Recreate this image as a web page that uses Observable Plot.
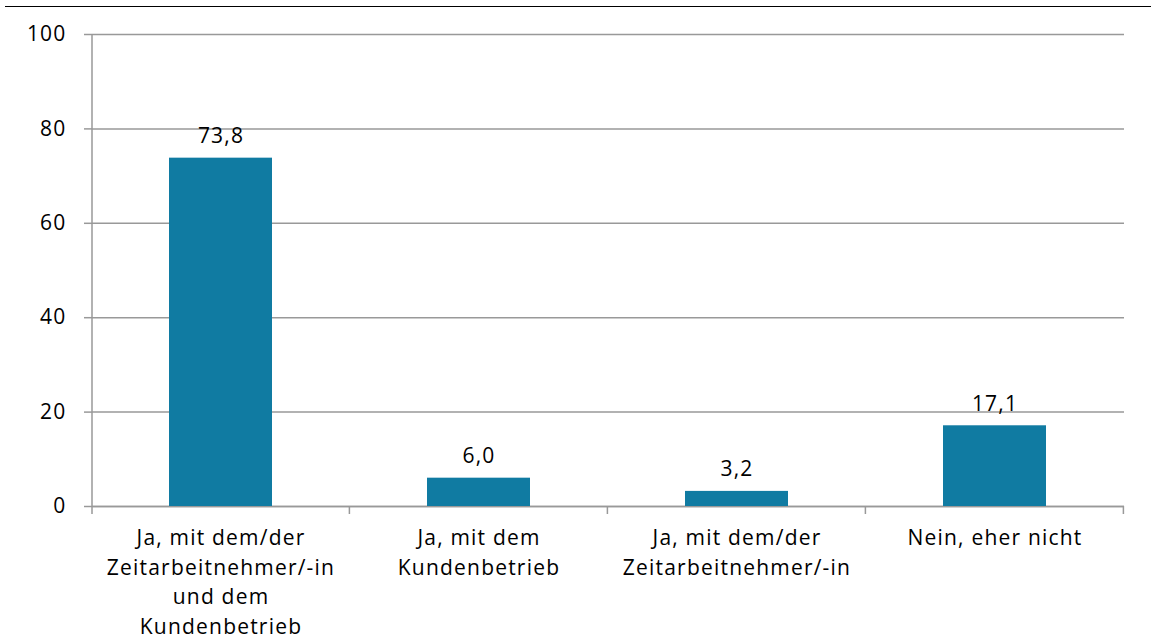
<!DOCTYPE html>
<html>
<head>
<meta charset="utf-8">
<script src="https://cdn.jsdelivr.net/npm/d3@7"></script>
<script src="https://cdn.jsdelivr.net/npm/@observablehq/plot@0.6"></script>
<style>
  html, body { margin: 0; padding: 0; background: #fff; }
  #wrap { position: relative; width: 1151px; height: 639px; }
  #topline { position: absolute; left: 5px; right: 0; top: 6px; height: 0; border-top: 1.5px solid #000; }
</style>
</head>
<body>
<div id="wrap"><div id="topline"></div></div>
<script>
const categories = [
  "Ja, mit dem/der\nZeitarbeitnehmer/-in\nund dem\nKundenbetrieb",
  "Ja, mit dem\nKundenbetrieb",
  "Ja, mit dem/der\nZeitarbeitnehmer/-in",
  "Nein, eher nicht"
];
const values = [73.8, 6.0, 3.2, 17.1];
const yTicks = [0, 20, 40, 60, 80, 100];

const data = categories.map((c, i) => ({cat: c, value: values[i]}));
const fmt = v => v.toFixed(1).replace(".", ",");
const gray = "#999999";
const font = "'Open Sans', sans-serif";

// custom mark: y-axis line and category boundary ticks
const axisFrame = (index, scales, values, dims) => {
  const g = d3.create("svg:g");
  const x = scales.x, y = scales.y;
  const step = x.step(), pad = step * x.paddingInner() / 2;
  const y0 = y(0);
  g.append("line")
    .attr("x1", dims.marginLeft).attr("x2", dims.marginLeft)
    .attr("y1", dims.marginTop).attr("y2", y0 + 8)
    .attr("stroke", gray).attr("stroke-width", 1.5);
  const bounds = categories.map(c => x(c) + x.bandwidth() + pad);
  bounds.forEach(b => {
    g.append("line").attr("x1", b).attr("x2", b)
      .attr("y1", y0).attr("y2", y0 + 8)
      .attr("stroke", gray).attr("stroke-width", 1.5);
  });
  return g.node();
};

const chart = Plot.plot({
  width: 1151,
  height: 639,
  marginLeft: 92,
  marginRight: 27,
  marginTop: 34,
  marginBottom: 133,
  style: {fontFamily: font, fontSize: "21px", color: "#000", letterSpacing: "1.2px", background: "transparent"},
  x: {domain: categories, paddingInner: 0.6, paddingOuter: 0.3, label: null},
  y: {domain: [0, 100], label: null},
  marks: [
    Plot.gridY(yTicks, {stroke: gray, strokeOpacity: 1, strokeWidth: 1.5}),
    Plot.ruleY([0], {stroke: gray, strokeWidth: 1.5}),
    Plot.barY(data, {x: "cat", y: "value", fill: "#107ba2"}),
    Plot.text(data, {x: "cat", y: "value", text: d => fmt(d.value), dy: -15, lineAnchor: "bottom", fill: "#000", fontSize: 21}),
    Plot.axisY(yTicks, {tickSize: 8, tickPadding: 18, fontSize: 21, stroke: gray, strokeWidth: 1.5, strokeOpacity: 1}),
    Plot.axisX({tickSize: 0, tickPadding: 18, fontSize: 21, lineHeight: 1.4, tickFormat: d => d}),
    axisFrame
  ]
});
document.getElementById("wrap").appendChild(chart);
</script>
</body>
</html>
